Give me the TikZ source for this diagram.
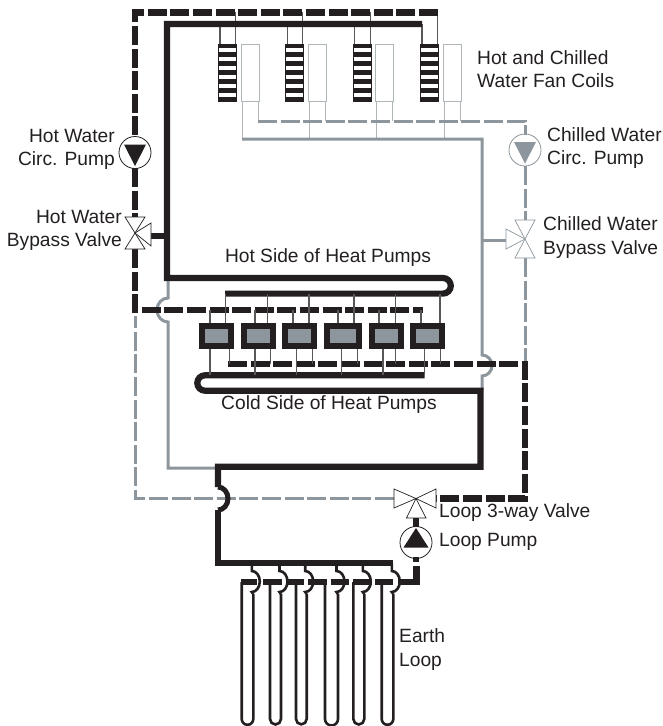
\documentclass[tikz,border=0pt]{standalone}
\usepackage{fontspec}
\usepackage{tikz}
\setmainfont{Liberation Sans}
\definecolor{pipeblack}{HTML}{231F20}
\definecolor{pipegray}{HTML}{8C969C}
\tikzset{
    hotline/.style={line width=6.2pt, pipeblack, dash pattern=on 19pt off 3.6pt},
    solidline/.style={line width=6.2pt, pipeblack, line join=miter},
    grayline/.style={line width=3pt, pipegray},
    graydash/.style={line width=3pt, pipegray, dash pattern=on 19pt off 3.6pt},
    drop/.style={line width=1.1pt, pipeblack!75},
    leg/.style={line width=2.6pt, pipeblack},
    valvepart/.style={line width=0.7pt, fill=white},
    pumpring/.style={line width=0.8pt},
    label/.style={font=\fontsize{19.2}{23.2}\selectfont, text=pipeblack, inner sep=0pt, align=left},
}
\begin{document}
\begin{tikzpicture}[x=1pt, y=-1pt]
    \useasboundingbox (0, 0) rectangle (662, 726);
    % fan coils along the top
    \foreach \cx in {218, 285.3, 352.7, 420} {
        \draw[drop] (\cx+2, 24) -- (\cx+2, 44);
        \draw[drop] (\cx+17.5, 12) -- (\cx+17.5, 44);
        \fill[pipeblack] (\cx, 44) rectangle (\cx+19, 102);
        \foreach \k in {0,...,5} {
            \fill[white] (\cx+1, 48+9*\k) rectangle (\cx+18, 51.5+9*\k);
        }
        \draw[line width=1pt, pipegray!70] (\cx+23, 44.5) rectangle (\cx+41, 101.5);
        \draw[line width=1pt, pipegray!70] (\cx+24, 102) -- (\cx+24, 139);
        \draw[line width=1pt, pipegray!70] (\cx+40, 102) -- (\cx+40, 121);
    }
    % chilled water side
    \draw[graydash] (258, 121) -- (525, 121) -- (525, 135);
    \draw[grayline] (242, 139) -- (482, 139) -- (482, 355)
        arc[start angle=-90, end angle=90, x radius=10, y radius=10.5] -- (482, 390);
    \draw[grayline] (482, 240) -- (506, 240);
    \draw[graydash] (525, 166) -- (525, 221);
    \draw[graydash] (525, 258) -- (525, 362);
    \draw[graydash] (394, 498.5) -- (135, 498.5) -- (135, 316);
    \draw[grayline] (168, 279) -- (168, 298)
        arc[start angle=270, end angle=90, x radius=11, y radius=12] -- (168, 468) -- (218, 468);
    % hot water side
    \draw[hotline] (438, 12.5) -- (135, 12.5) -- (135, 137);
    \draw[hotline] (135, 168) -- (135, 217);
    \draw[hotline] (135, 249) -- (135, 310) -- (423, 310);
    \draw[solidline] (422, 24) -- (167, 24) -- (167, 278) -- (443, 278)
        arc[start angle=-90, end angle=90, radius=7.8] -- (225, 293.6);
    \draw[solidline] (151, 236) -- (167, 236);
    % cold side and loop return
    \draw[solidline] (424.5, 375.3) -- (205, 375.3)
        arc[start angle=270, end angle=90, radius=7.7] -- (480.5, 390.7) -- (480.5, 466.7) -- (218, 466.7) -- (218, 487);
    \draw[line width=5pt, pipeblack] (218, 487) arc[start angle=-90, end angle=90, x radius=10, y radius=11.5];
    \draw[solidline] (218, 510) -- (218, 563) -- (393, 563);
    \draw[hotline] (228, 364) -- (525, 364) -- (525, 498.5) -- (436, 498.5);
    % heat pumps
    \foreach \ha/\hb/\ta/\tb/\ba/\bb in {
        199/234/210/225.7/210/229.3,
        240.7/275.7/255/267.7/255/270.7,
        282.3/317.3/293/309/296.3/312.3,
        324/362/338/354/341.3/357.3,
        368.7/403.7/379/395.7/383/395.7,
        410/445/421/440/424.3/440.7} {
        \draw[drop] (\ta, 310) -- (\ta, 323);
        \draw[drop] (\tb, 293.6) -- (\tb, 323);
        \draw[drop] (\ba, 349) -- (\ba, 375);
        \draw[drop] (\bb, 349) -- (\bb, 364);
        \draw[line width=6pt, draw=pipeblack, fill=pipegray] (\ha+3, 326) rectangle (\hb-3, 346);
    }
    % pumps
    \draw[pumpring, pipeblack] (135, 152.5) circle (16);
    \fill[pipeblack] (124, 144.5) -- (146, 144.5) -- (135, 166) -- cycle;
    \draw[pumpring, pipegray] (525, 150) circle (16);
    \fill[pipegray] (514, 142) -- (536, 142) -- (525, 163.5) -- cycle;
    \draw[pumpring, pipeblack] (416, 542.5) circle (16);
    \fill[pipeblack] (416, 528) -- (428.5, 547.5) -- (403.5, 547.5) -- cycle;
    % valves
    \draw[valvepart, draw=pipeblack] (135, 233) -- (125, 217) -- (145, 217) -- cycle;
    \draw[valvepart, draw=pipeblack] (135, 233) -- (125, 249) -- (145, 249) -- cycle;
    \draw[valvepart, draw=pipeblack] (135, 233) -- (151, 223) -- (151, 246) -- cycle;
    \draw[valvepart, draw=pipegray] (525, 239) -- (515, 220) -- (535, 220) -- cycle;
    \draw[valvepart, draw=pipegray] (525, 239) -- (515, 258) -- (535, 258) -- cycle;
    \draw[valvepart, draw=pipegray] (525, 239) -- (506, 229) -- (506, 249) -- cycle;
    \draw[valvepart, draw=pipeblack] (416, 498.5) -- (394, 489) -- (394, 508) -- cycle;
    \draw[valvepart, draw=pipeblack] (416, 498.5) -- (436, 489) -- (436, 508) -- cycle;
    \draw[valvepart, draw=pipeblack] (416, 498.5) -- (406.5, 518) -- (426, 518) -- cycle;
    \draw[solidline] (416, 518) -- (416, 527);
    \draw[solidline] (416, 557) -- (416, 562);
    % earth loop
    \foreach \la/\lb/\sa/\sb in {
        241.7/253.3/240.7/257,
        270/281/263/281.7,
        296/306.7/285.7/304,
        325/338/308/326.7,
        353.3/364.3/330.7/349,
        381.7/393.3/352.7/371.7} {
        \draw[leg] (\lb-1.5, 563) -- (\lb-1.5, 571) arc[start angle=-90, end angle=90, x radius=8, y radius=10.5] -- (\lb, 594);
        \draw[leg] (\la, 582) -- (\la, 719) arc[start angle=180, end angle=0, radius=(\lb-\la)/2] -- (\lb, 594);
        \draw[line width=6pt, pipeblack] (\sa, 581.7) -- (\sb, 581.7);
    }
    \draw[line width=6pt, pipeblack] (375, 581.7) -- (393, 581.7);
    \draw[solidline] (398, 581.7) -- (416.5, 581.7) -- (416.5, 566);
    % labels
    \node[label, anchor=west] (coils) at (477, 69.5) {Hot and Chilled\\Water Fan Coils};
    \node[label, anchor=east, align=right] (hotpump) at (115, 149.5) {Hot Water\\Circ. Pump};
    \node[label, anchor=east, align=right] (hotvalve) at (122, 230.5) {Hot Water\\Bypass Valve};
    \node[label, anchor=west] (chillpump) at (547, 148) {Chilled Water\\Circ. Pump};
    \node[label, anchor=west] (chillvalve) at (543, 237.5) {Chilled Water\\Bypass Valve};
    \node[label] (hotside) at (328, 258) {Hot Side of Heat Pumps};
    \node[label] (coldside) at (329, 405) {Cold Side of Heat Pumps};
    \node[label, anchor=west] (loopvalve) at (439, 513) {Loop 3-way Valve};
    \node[label, anchor=west] (looppump) at (439, 542) {Loop Pump};
    \node[label, anchor=west] (earth) at (399, 649.5) {Earth\\Loop};
\end{tikzpicture}
\end{document}
